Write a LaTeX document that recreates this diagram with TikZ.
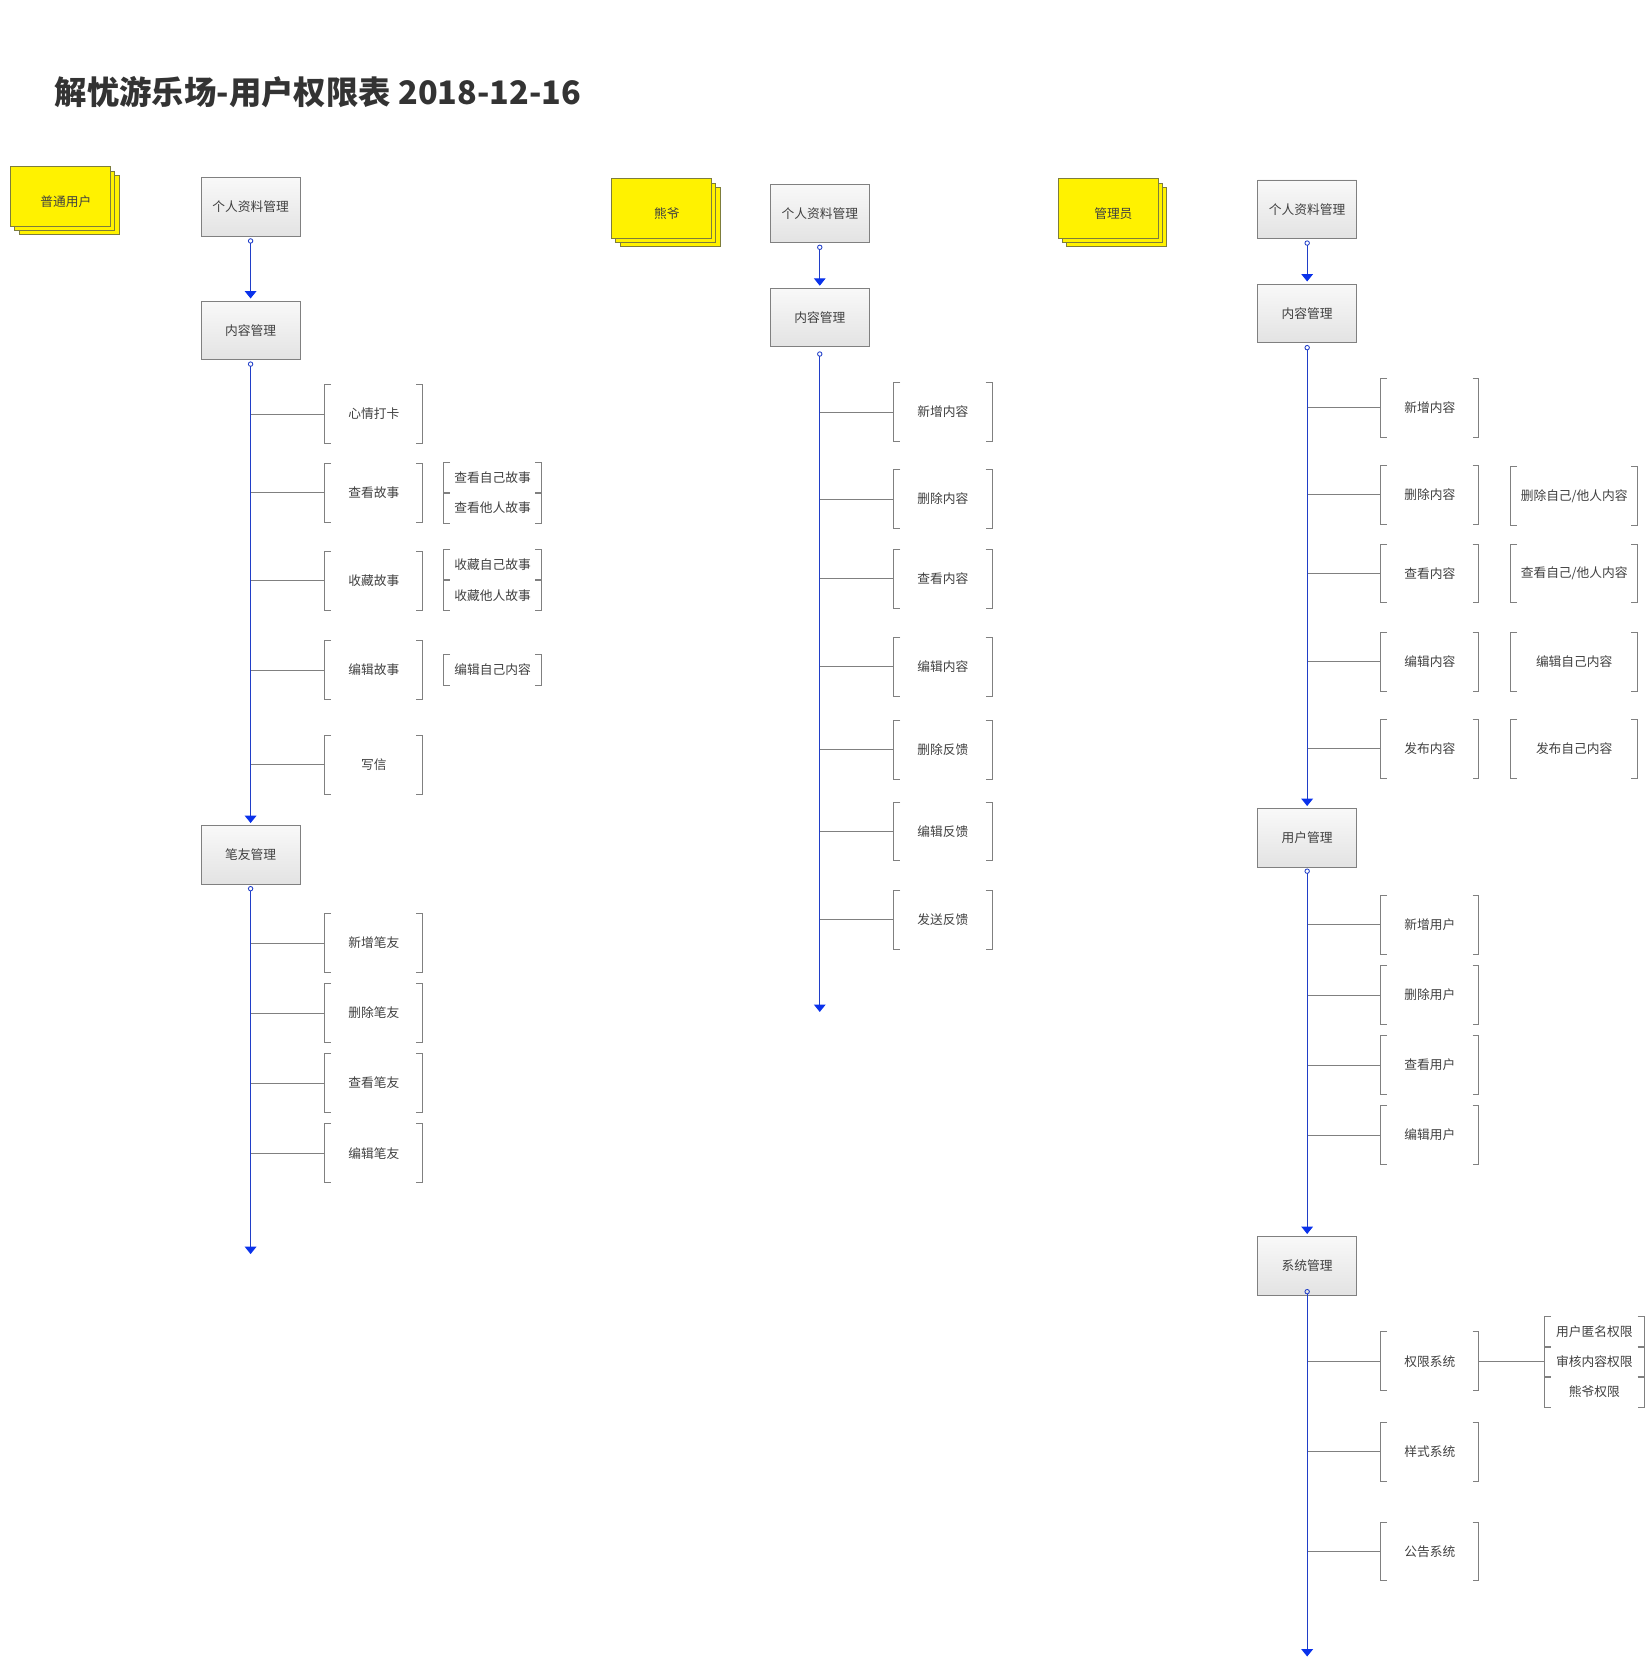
\documentclass[tikz,border=0pt]{standalone}
\usepackage{fontspec}
\newfontfamily\cjk{Noto Sans CJK SC}
\usetikzlibrary{arrows.meta,shadows}
\definecolor{spine}{RGB}{32,62,200}
\definecolor{tipblue}{RGB}{10,50,235}
\definecolor{yelline}{RGB}{125,125,60}
\newcommand{\boxfont}{\cjk\fontsize{12}{14}\selectfont}
\tikzset{module/.style={draw=gray, line width=0.8pt, top color=gray!5, bottom color=gray!22,
        minimum width=93pt, minimum height=55pt, inner sep=0pt, text=black!75, font=\boxfont},
    role/.style={draw=yelline, line width=0.8pt, fill=yellow, minimum width=94pt, minimum height=56pt,
        inner sep=0pt, double copy shadow={shadow xshift=4pt, shadow yshift=-4pt, draw=yelline, fill=yellow}},
    rolelabel/.style={xshift=5pt, yshift=-5pt, text=black!75, font=\boxfont},
    brk/.style={draw=gray, line width=0.8pt},
    leaf/.style={minimum width=92pt, minimum height=55pt, inner sep=0pt, text=black!75, font=\boxfont,
        append after command={\pgfextra{\draw[brk]
            ([xshift=6pt]\tikzlastnode.north west) -| (\tikzlastnode.south west) -- ++(6pt,0)
            ([xshift=-6pt]\tikzlastnode.north east) -| (\tikzlastnode.south east) -- ++(-6pt,0);}}},
    subleaf/.style={leaf, minimum height=28.5pt},
    wideleaf/.style={leaf, minimum width=119pt},
    branch/.style={draw=gray, line width=0.8pt},
    flow/.style={draw=spine, line width=1pt,
        {Circle[open, length=5pt, line width=0.8pt]}-{Triangle[width=11pt, length=7pt, color=tipblue]}},
    }
\begin{document}
\begin{tikzpicture}[x=1pt, y=-1pt]
\useasboundingbox (0,0) rectangle (1549,1568);
\node[anchor=west, font=\cjk\bfseries\fontsize{30.5}{36}\selectfont, text=black!80] (title) at (48,87) {解忧游乐场-用户权限表 2018-12-16};

% 普通用户
\node[role, label={[rolelabel]center:普通用户}] (roleUser) at (57,185) {};
\node[module] (profA) at (236,195) {个人资料管理};
\node[module] (contentA) at (236,311) {内容管理};
\node[module] (penpalA) at (236,805) {笔友管理};
\coordinate (endA) at (236,1181);
\node[leaf] (moodA) at (352,390) {心情打卡};
\node[leaf] (viewStoryA) at (352,464) {查看故事};
\node[subleaf] (viewOwnA) at (464,450) {查看自己故事};
\node[subleaf] (viewOtherA) at (464,478.5) {查看他人故事};
\node[leaf] (favStoryA) at (352,547) {收藏故事};
\node[subleaf] (favOwnA) at (464,532) {收藏自己故事};
\node[subleaf] (favOtherA) at (464,560.5) {收藏他人故事};
\node[leaf] (editStoryA) at (352,631) {编辑故事};
\node[subleaf] (editOwnA) at (464,631) {编辑自己内容};
\node[leaf] (letterA) at (352,720) {写信};
\node[leaf] (addPenpalA) at (352,888) {新增笔友};
\node[leaf] (delPenpalA) at (352,954) {删除笔友};
\node[leaf] (viewPenpalA) at (352,1020) {查看笔友};
\node[leaf] (editPenpalA) at (352,1086) {编辑笔友};

\draw[branch] (moodA.west) -- (moodA.west -| contentA.south);
\draw[branch] (viewStoryA.west) -- (viewStoryA.west -| contentA.south);
\draw[branch] (favStoryA.west) -- (favStoryA.west -| contentA.south);
\draw[branch] (editStoryA.west) -- (editStoryA.west -| contentA.south);
\draw[branch] (letterA.west) -- (letterA.west -| contentA.south);
\draw[branch] (addPenpalA.west) -- (addPenpalA.west -| penpalA.south);
\draw[branch] (delPenpalA.west) -- (delPenpalA.west -| penpalA.south);
\draw[branch] (viewPenpalA.west) -- (viewPenpalA.west -| penpalA.south);
\draw[branch] (editPenpalA.west) -- (editPenpalA.west -| penpalA.south);
\draw[flow] ([yshift=-1.5pt]profA.south) -- ([yshift=2pt]contentA.north);
\draw[flow] ([yshift=-1.5pt]contentA.south) -- ([yshift=2pt]penpalA.north);
\draw[flow] ([yshift=-1.5pt]penpalA.south) -- (endA);

% 熊爷
\node[role, label={[rolelabel]center:熊爷}] (roleBear) at (623,196.5) {};
\node[module] (profB) at (772,201) {个人资料管理};
\node[module] (contentB) at (772,299) {内容管理};
\coordinate (endB) at (772,953);
\node[leaf] (addB) at (888,388) {新增内容};
\node[leaf] (delB) at (888,470) {删除内容};
\node[leaf] (viewB) at (888,545) {查看内容};
\node[leaf] (editB) at (888,628) {编辑内容};
\node[leaf] (delFbB) at (888,706) {删除反馈};
\node[leaf] (editFbB) at (888,783) {编辑反馈};
\node[leaf] (sendFbB) at (888,866) {发送反馈};

\draw[branch] (addB.west) -- (addB.west -| contentB.south);
\draw[branch] (delB.west) -- (delB.west -| contentB.south);
\draw[branch] (viewB.west) -- (viewB.west -| contentB.south);
\draw[branch] (editB.west) -- (editB.west -| contentB.south);
\draw[branch] (delFbB.west) -- (delFbB.west -| contentB.south);
\draw[branch] (editFbB.west) -- (editFbB.west -| contentB.south);
\draw[branch] (sendFbB.west) -- (sendFbB.west -| contentB.south);
\draw[flow] ([yshift=-1.5pt]profB.south) -- ([yshift=2pt]contentB.north);
\draw[flow] ([yshift=-4pt]contentB.south) -- (endB);

% 管理员
\node[role, label={[rolelabel]center:管理员}] (roleAdmin) at (1043.5,196.5) {};
\node[module] (profC) at (1231,197) {个人资料管理};
\node[module] (contentC) at (1231,295) {内容管理};
\node[module] (usersC) at (1231,789) {用户管理};
\node[module] (systemC) at (1231,1192) {系统管理};
\coordinate (endC) at (1231,1560);
\node[leaf] (addC) at (1346.5,384) {新增内容};
\node[leaf] (delC) at (1346.5,466) {删除内容};
\node[wideleaf] (delOwnC) at (1482.5,467) {删除自己/他人内容};
\node[leaf] (viewC) at (1346.5,540) {查看内容};
\node[wideleaf] (viewOwnC) at (1482.5,540) {查看自己/他人内容};
\node[leaf] (editC) at (1346.5,623) {编辑内容};
\node[wideleaf] (editOwnC) at (1482.5,623) {编辑自己内容};
\node[leaf] (pubC) at (1346.5,705) {发布内容};
\node[wideleaf] (pubOwnC) at (1482.5,705) {发布自己内容};
\node[leaf] (addUserC) at (1346.5,871) {新增用户};
\node[leaf] (delUserC) at (1346.5,937) {删除用户};
\node[leaf] (viewUserC) at (1346.5,1003) {查看用户};
\node[leaf] (editUserC) at (1346.5,1069) {编辑用户};
\node[leaf] (permC) at (1346.5,1282) {权限系统};
\node[subleaf, minimum width=93pt] (anonPermC) at (1501.5,1254) {用户匿名权限};
\node[subleaf, minimum width=93pt] (reviewPermC) at (1501.5,1282.5) {审核内容权限};
\node[subleaf, minimum width=93pt] (bearPermC) at (1501.5,1311) {熊爷权限};
\node[leaf] (styleC) at (1346.5,1367) {样式系统};
\node[leaf] (noticeC) at (1346.5,1461) {公告系统};

\draw[branch] (addC.west) -- (addC.west -| contentC.south);
\draw[branch] (delC.west) -- (delC.west -| contentC.south);
\draw[branch] (viewC.west) -- (viewC.west -| contentC.south);
\draw[branch] (editC.west) -- (editC.west -| contentC.south);
\draw[branch] (pubC.west) -- (pubC.west -| contentC.south);
\draw[branch] (addUserC.west) -- (addUserC.west -| usersC.south);
\draw[branch] (delUserC.west) -- (delUserC.west -| usersC.south);
\draw[branch] (viewUserC.west) -- (viewUserC.west -| usersC.south);
\draw[branch] (editUserC.west) -- (editUserC.west -| usersC.south);
\draw[branch] (permC.west) -- (permC.west -| systemC.south);
\draw[branch] (styleC.west) -- (styleC.west -| systemC.south);
\draw[branch] (noticeC.west) -- (noticeC.west -| systemC.south);
\draw[branch] (permC.east) -- (permC.east -| reviewPermC.west);
\draw[flow] ([yshift=-1.5pt]profC.south) -- ([yshift=2pt]contentC.north);
\draw[flow] ([yshift=-2pt]contentC.south) -- ([yshift=2pt]usersC.north);
\draw[flow] ([yshift=-1pt]usersC.south) -- ([yshift=2pt]systemC.north);
\draw[flow] ([yshift=6pt]systemC.south) -- (endC);
\end{tikzpicture}
\end{document}
